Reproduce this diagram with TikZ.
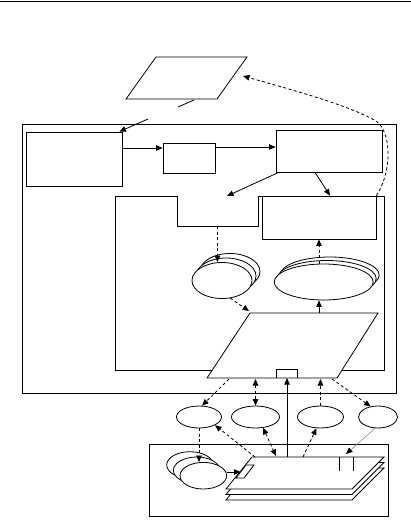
\documentclass[tikz,border=0pt]{standalone}
\usetikzlibrary{arrows.meta,shapes.geometric,calc}
\begin{document}
\begin{tikzpicture}[x=1pt,y=-1pt,line width=0.8pt,
  >={Triangle[length=6.5pt,width=5.5pt]},
  box/.style={draw,rectangle,inner sep=0pt,fill=white},
  ell/.style={draw,ellipse,inner sep=0pt,fill=white},
  dsh/.style={dash pattern=on 3pt off 2.5pt},
  thinl/.style={gray,line width=0.5pt}]
\useasboundingbox (0,0) rectangle (411,527);
% top rule
\coordinate (ruleL) at (0,1); \coordinate (ruleR) at (411,1);
\draw (ruleL) -- (ruleR);
% top parallelogram
\coordinate (p1a) at (156,57); \coordinate (p1b) at (247,57);
\coordinate (p1c) at (217,99); \coordinate (p1d) at (126,99);
\draw (p1a) -- (p1b) -- (p1c) -- (p1d) -- cycle;
% big frame
\draw (22,124) rectangle (396,393);
% boxes
\node[box,minimum width=96pt,minimum height=54pt] (A) at (74,159) {};
\node[box,minimum width=52pt,minimum height=30pt] (B) at (189,158) {};
\node[box,minimum width=106pt,minimum height=42pt] (C) at (329,151) {};
% U shape
\draw (115,196) -- (177,196) -- (177,226) -- (258,226) -- (258,196) -- (384,196) -- (384,370) -- (115,370) -- cycle;
\coordinate (nb) at (217.5,226);
\node[box,minimum width=114pt,minimum height=43pt] (D) at (319,217.5) {};
% arrows top
\coordinate (g1) at (194,100); \coordinate (g2) at (178,107); \coordinate (g3) at (148,119);
\draw (g1) -- (g2);
\draw[->] (g3) -- ([xshift=-3pt]A.north east);
\draw[->] ([yshift=11pt]A.east) -- ([yshift=10pt]B.west);
\draw[->] ([yshift=11pt]B.east) -- ([yshift=4pt]C.west);
\coordinate (n1) at (227,196);
\draw[->] ([xshift=3pt]C.south west) -- (n1);
\draw[->] ([xshift=-14pt]C.south) -- ([xshift=11pt]D.north);
% dashed curve to top parallelogram
\coordinate (ptip) at (243,76);
\draw[dsh,->] (D.north east) .. controls (392,172) and (392,132) .. (376,121)
  .. controls (350,106) and (300,92) .. (ptip);
% left ellipse stack
\node[ell,minimum width=60pt,minimum height=36pt] (E1c) at (230,271.5) {};
\node[ell,minimum width=60pt,minimum height=36pt] (E1b) at (226,276) {};
\node[ell,minimum width=60pt,minimum height=36pt] (E1f) at (222,280.5) {};
% right ellipse stack
\node[ell,minimum width=99pt,minimum height=36pt] (E2c) at (329.7,275) {};
\node[ell,minimum width=99pt,minimum height=36pt] (E2b) at (326.7,278.5) {};
\node[ell,minimum width=99pt,minimum height=36pt] (E2f) at (323.7,282) {};
\draw[dsh,->] (nb) -- (nb |- E1f.north);
\draw[dsh,->] (D.south |- E2f.north) -- (D.south);
% lower parallelogram
\coordinate (p2a) at (250,313); \coordinate (p2b) at (378,313);
\coordinate (p2c) at (337,378); \coordinate (p2d) at (207,378);
\draw[fill=white] (p2a) -- (p2b) -- (p2c) -- (p2d) -- cycle;
\coordinate (srl) at (276,378); \coordinate (srr) at (297,378);
\draw (srl) -- ++(0,-9) -| (srr);
\draw[->] (D.south |- p2a) -- (D.south |- E2f.south);
\draw[dsh,->] (E1f.-65) -- ([xshift=-1pt,yshift=2pt]p2a);
% row of ellipses
\node[ell,minimum width=45pt,minimum height=22pt] (R1) at (199,417) {};
\node[ell,minimum width=48pt,minimum height=22pt] (R2) at (255.5,417) {};
\node[ell,minimum width=46pt,minimum height=22pt] (R3) at (320.5,417) {};
\node[ell,minimum width=39pt,minimum height=22pt] (R4) at (378,417) {};
\coordinate (q1) at (229,379);
\coordinate (q2) at (332,379);
\draw[dsh,->] (q1) -- (R1.75);
\draw[dsh,<->] (R2.north |- q1) -- (R2.north);
\draw[dsh,->] (R3.north) -- (R3.north |- q1);
\draw[dsh,->] (q2) -- (R4.125);
% lower frame
\draw (149,444) rectangle (388,516);
% plates
\foreach \k/\n in {2/pl2,1/pl1,0/pl0}{
  \draw[fill=white] (252,457+5.5*\k) -- (384,457+5.5*\k) -- (352,489+5.5*\k) -- (226,489+5.5*\k) -- cycle;
}
\coordinate (t1) at (246,465); \coordinate (t2) at (254,465);
\coordinate (t3) at (244,478); \coordinate (t4) at (236,478);
\draw[fill=white] (t1) -- (t2) -- (t3) -- (t4) -- cycle;
\coordinate (tabw) at (240.5,472);
\coordinate (v1) at (339,457); \coordinate (v2) at (353,457);
\draw (v1) -- ++(0,14); \draw (v2) -- ++(0,14);
% lower-left ellipse stack
\node[ell,minimum width=46.6pt,minimum height=26.6pt] (L1) at (190,465) {};
\node[ell,minimum width=46.6pt,minimum height=26.6pt] (L2) at (196.7,470.3) {};
\node[ell,minimum width=46.6pt,minimum height=26.6pt] (L3) at (203.3,475.7) {};
% connectors lower part
\coordinate (s0) at (287,457);
\draw[->] (s0) -- (s0 |- srl);
\draw[dsh,->] (R1.south) -- (R1.south |- L3.north);
\draw[->] (L3.east |- tabw) -- (tabw);
\coordinate (s1) at (255,457);
\coordinate (s2) at (276,456);
\coordinate (s3) at (303,457);
\coordinate (s4) at (346,454);
\draw[dsh,->] (s1) -- (R1.-27);
\draw[dsh,<->] (R2.-55) -- (s2);
\draw[dsh,->] (s3) -- (R3.-110);
\draw[thinl,-{Triangle[length=6.5pt,width=5.5pt,black]}] (R4.-105) -- (s4);
\end{tikzpicture}
\end{document}
